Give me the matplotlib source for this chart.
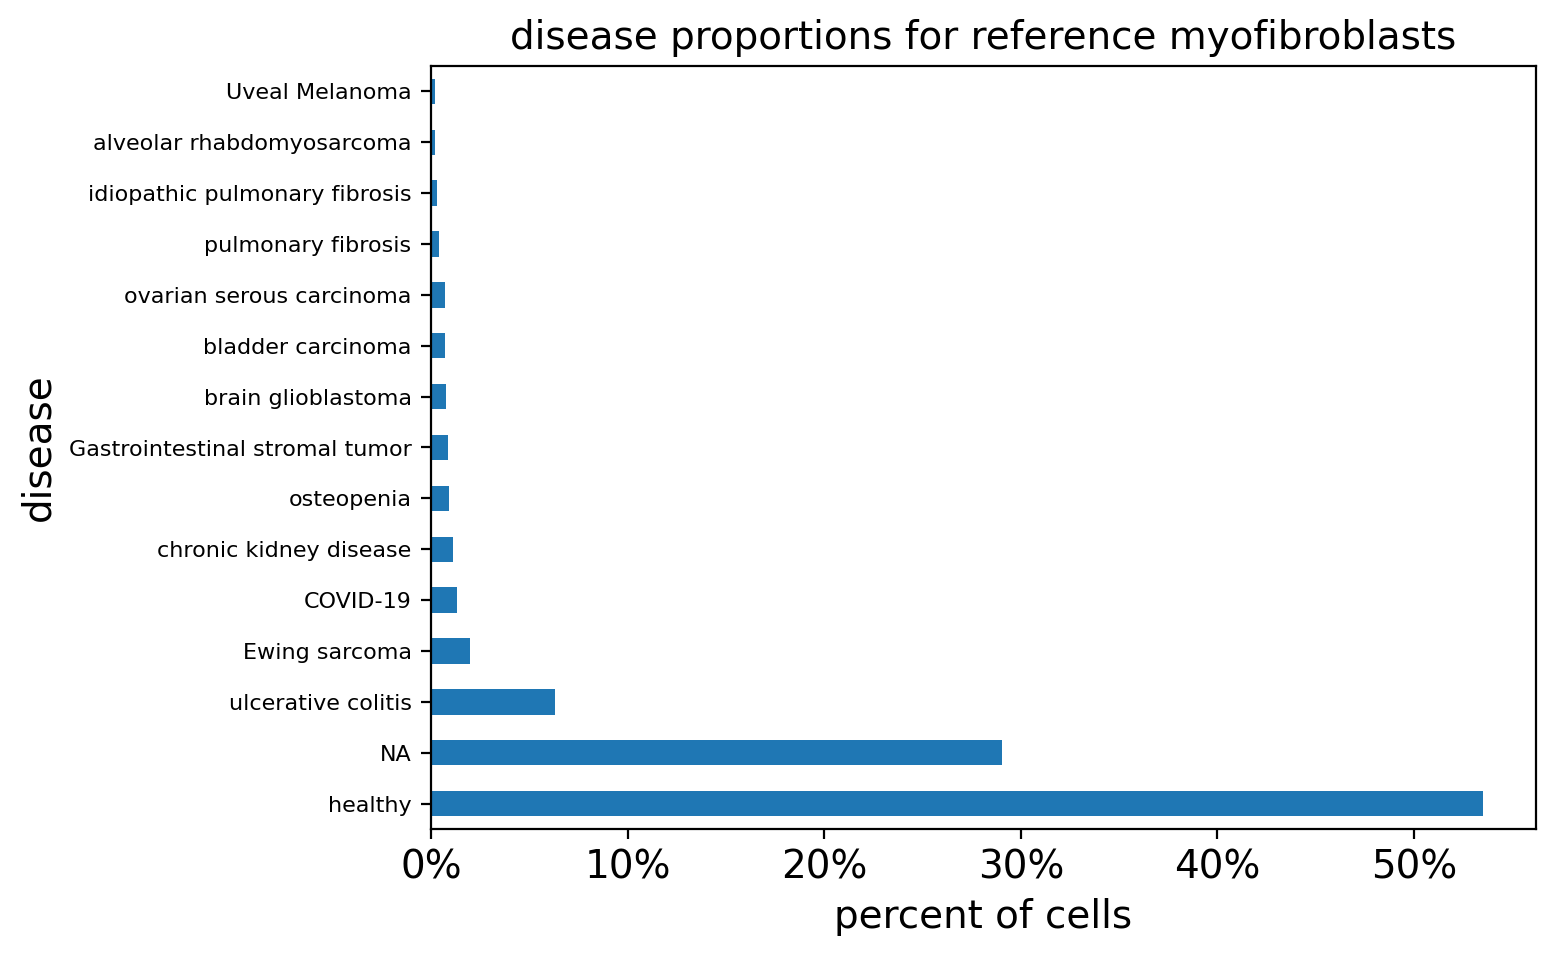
import matplotlib
matplotlib.use("Agg")
import matplotlib.pyplot as plt
from matplotlib.ticker import PercentFormatter

diseases = ["healthy", "NA", "ulcerative colitis", "Ewing sarcoma", "COVID-19",
            "chronic kidney disease", "osteopenia", "Gastrointestinal stromal tumor",
            "brain glioblastoma", "bladder carcinoma", "ovarian serous carcinoma",
            "pulmonary fibrosis", "idiopathic pulmonary fibrosis",
            "alveolar rhabdomyosarcoma", "Uveal Melanoma"]
percent = [53.5, 29.05, 6.3, 1.98, 1.3, 1.1, 0.9, 0.84, 0.74, 0.69, 0.69,
           0.43, 0.32, 0.21, 0.21]

fig = plt.figure(figsize=(7.775, 4.775), dpi=200)
ax = fig.add_axes([431/1555, 1 - 829/955, (1536 - 431)/1555, (829 - 66)/955])
ax.barh(range(len(diseases)), percent, height=0.5, color="#1f77b4")
ax.set_yticks(range(len(diseases)))
ax.set_yticklabels(diseases, fontsize=8)
ax.set_ylim(-0.5, len(diseases) - 0.5)
ax.set_xlim(0, 56.2)
ax.xaxis.set_major_formatter(PercentFormatter(decimals=0))
ax.tick_params(axis="x", labelsize=14)
ax.set_xlabel("percent of cells", fontsize=14)
ax.set_ylabel("disease", fontsize=14)
ax.set_title("disease proportions for reference myofibroblasts", fontsize=14)
fig.savefig("out.png", dpi=200)
